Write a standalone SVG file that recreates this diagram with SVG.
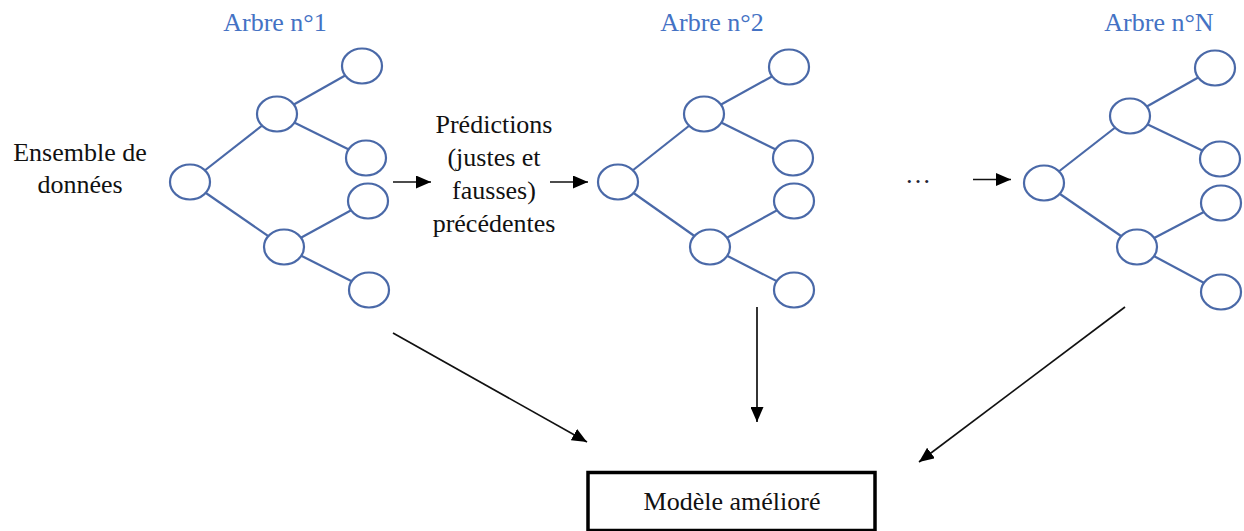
<svg xmlns="http://www.w3.org/2000/svg" width="1244" height="531" viewBox="0 0 1244 531">
  <style>
    .txt { font-family: "Liberation Serif", "Times New Roman", serif; font-size: 26px; fill: #111; }
    .title { font-family: "Liberation Serif", "Times New Roman", serif; font-size: 26px; fill: #4472c4; text-anchor: middle; }
    .mid { text-anchor: middle; }
    .edge { stroke: #4a69a8; stroke-width: 2.2; fill: none; }
    .node { stroke: #4a69a8; stroke-width: 2.2; fill: #fff; }
    .arrow { stroke: #111; stroke-width: 1.7; fill: none; marker-end: url(#head); }
  </style>
  <defs>
    <marker id="head" viewBox="0 0 15 13" refX="15" refY="6.5" markerWidth="15" markerHeight="13" markerUnits="userSpaceOnUse" orient="auto">
      <path d="M0,0 L15,6.5 L0,13 z" fill="#000"/>
    </marker>
  </defs>
  <rect width="1244" height="531" fill="#fff"/>

  <!-- titles -->
  <text class="title" x="275" y="31">Arbre n°1</text>
  <text class="title" x="712" y="31">Arbre n°2</text>
  <text class="title" x="1159" y="31">Arbre n°N</text>

  <!-- input data -->
  <g id="dataset">
    <text class="txt mid" x="80" y="161">Ensemble de</text>
    <text class="txt mid" x="80" y="193">données</text>
  </g>

  <!-- tree 1: root, two inner nodes, four leaves -->
  <g id="tree1">
    <line class="edge" x1="190" y1="182" x2="277" y2="114"/>
    <line class="edge" x1="190" y1="182" x2="284" y2="247"/>
    <line class="edge" x1="277" y1="114" x2="362" y2="66"/>
    <line class="edge" x1="277" y1="114" x2="366" y2="158"/>
    <line class="edge" x1="284" y1="247" x2="368" y2="201"/>
    <line class="edge" x1="284" y1="247" x2="369" y2="290"/>
    <ellipse class="node" cx="190" cy="182" rx="20" ry="17.5"/>
    <ellipse class="node" cx="277" cy="114" rx="20" ry="17.5"/>
    <ellipse class="node" cx="284" cy="247" rx="20" ry="17.5"/>
    <ellipse class="node" cx="362" cy="66" rx="20" ry="17.5"/>
    <ellipse class="node" cx="366" cy="158" rx="20" ry="17.5"/>
    <ellipse class="node" cx="368" cy="201" rx="20" ry="17.5"/>
    <ellipse class="node" cx="369" cy="290" rx="20" ry="17.5"/>
  </g>

  <!-- previous predictions -->
  <g id="predictions">
    <text class="txt mid" x="494" y="133">Prédictions</text>
    <text class="txt mid" x="494" y="166">(justes et</text>
    <text class="txt mid" x="494" y="199">fausses)</text>
    <text class="txt mid" x="494" y="232">précédentes</text>
  </g>

  <!-- tree 2 -->
  <g id="tree2">
    <line class="edge" x1="618" y1="182" x2="704" y2="114"/>
    <line class="edge" x1="618" y1="182" x2="710" y2="247"/>
    <line class="edge" x1="704" y1="114" x2="789" y2="67"/>
    <line class="edge" x1="704" y1="114" x2="793" y2="158"/>
    <line class="edge" x1="710" y1="247" x2="794" y2="201"/>
    <line class="edge" x1="710" y1="247" x2="794" y2="290"/>
    <ellipse class="node" cx="618" cy="182" rx="20" ry="17.5"/>
    <ellipse class="node" cx="704" cy="114" rx="20" ry="17.5"/>
    <ellipse class="node" cx="710" cy="247" rx="20" ry="17.5"/>
    <ellipse class="node" cx="789" cy="67" rx="20" ry="17.5"/>
    <ellipse class="node" cx="793" cy="158" rx="20" ry="17.5"/>
    <ellipse class="node" cx="794" cy="201" rx="20" ry="17.5"/>
    <ellipse class="node" cx="794" cy="290" rx="20" ry="17.5"/>
  </g>

  <!-- continuation marker -->
  <g id="ellipsis">
    <text class="txt mid" x="918" y="183" style="fill:#223">…</text>
  </g>

  <!-- tree N -->
  <g id="treeN">
    <line class="edge" x1="1044" y1="183" x2="1130" y2="116"/>
    <line class="edge" x1="1044" y1="183" x2="1137" y2="247"/>
    <line class="edge" x1="1130" y1="116" x2="1215" y2="68"/>
    <line class="edge" x1="1130" y1="116" x2="1220" y2="159"/>
    <line class="edge" x1="1137" y1="247" x2="1221" y2="203"/>
    <line class="edge" x1="1137" y1="247" x2="1221" y2="292"/>
    <ellipse class="node" cx="1044" cy="183" rx="20" ry="17.5"/>
    <ellipse class="node" cx="1130" cy="116" rx="20" ry="17.5"/>
    <ellipse class="node" cx="1137" cy="247" rx="20" ry="17.5"/>
    <ellipse class="node" cx="1215" cy="68" rx="20" ry="17.5"/>
    <ellipse class="node" cx="1220" cy="159" rx="20" ry="17.5"/>
    <ellipse class="node" cx="1221" cy="203" rx="20" ry="17.5"/>
    <ellipse class="node" cx="1221" cy="292" rx="20" ry="17.5"/>
  </g>

  <!-- improved model -->
  <g id="model">
    <rect x="588" y="472.5" width="287" height="58" fill="#fff" stroke="#000" stroke-width="3.5"/>
    <text class="txt mid" x="732" y="510">Modèle amélioré</text>
  </g>

  <!-- connectors -->
  <g id="connectors">
    <line class="arrow" x1="393" y1="182" x2="431" y2="182"/>
    <line class="arrow" x1="550" y1="182" x2="588" y2="182"/>
    <line class="arrow" x1="973" y1="179.5" x2="1011" y2="179.5"/>
    <line class="arrow" x1="393" y1="333" x2="587" y2="442"/>
    <line class="arrow" x1="757" y1="307" x2="757" y2="422"/>
    <line class="arrow" x1="1125" y1="307" x2="919" y2="462"/>
  </g>
</svg>
